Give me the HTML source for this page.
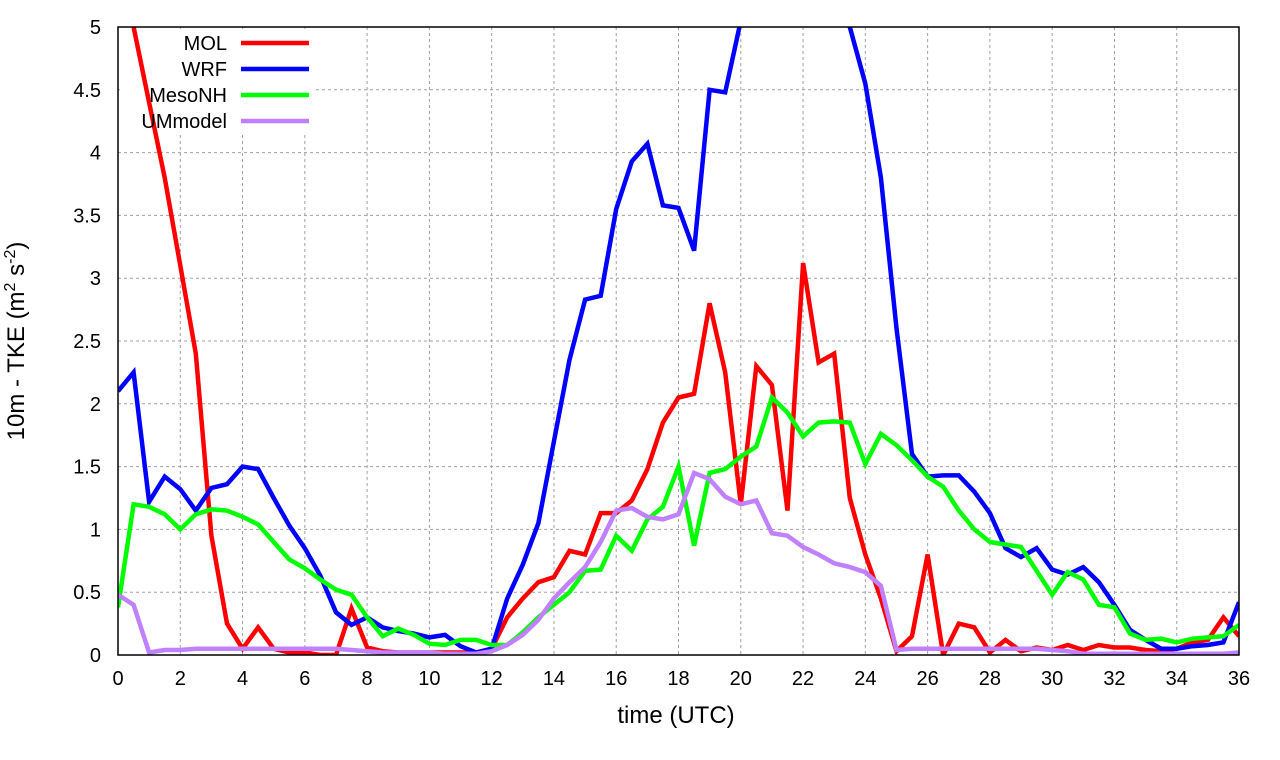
<!DOCTYPE html>
<html><head><meta charset="utf-8"><style>
body{margin:0;background:#fff;}
svg{display:block;font-family:"Liberation Sans",sans-serif;}
</style></head><body>
<svg id="chart" width="1280" height="760">
<defs><clipPath id="clip"><rect x="118" y="27" width="1121" height="628"/></clipPath></defs>
<g id="grid"></g>
<g id="series" clip-path="url(#clip)"></g>
<rect x="118" y="27" width="1121" height="628" fill="none" stroke="#000" stroke-width="1.5"/>
<g id="ticks"></g>
<text x="676" y="723" font-size="24" text-anchor="middle">time (UTC)</text>
<text transform="translate(24,341) rotate(-90)" font-size="24" text-anchor="middle">10m - TKE (m<tspan dy="-9" font-size="16">2</tspan><tspan dy="9"> s</tspan><tspan dy="-9" font-size="16">-2</tspan><tspan dy="9">)</tspan></text>
<g id="legend"></g>
</svg>
<script>
const xTicks=[0,2,4,6,8,10,12,14,16,18,20,22,24,26,28,30,32,34,36];
const yTicks=[0,0.5,1,1.5,2,2.5,3,3.5,4,4.5,5];
const yTickLabels=["0","0.5","1","1.5","2","2.5","3","3.5","4","4.5","5"];
const seriesNames=["MOL","WRF","MesoNH","UMmodel"];
const mol=[5.6,5.0,4.4,3.8,3.1,2.4,0.95,0.25,0.05,0.22,0.05,0.02,0.02,0,0,0.37,0.06,0.03,0.02,0.02,0.02,0.02,0.02,0.02,0.05,0.3,0.45,0.58,0.62,0.83,0.8,1.13,1.13,1.23,1.48,1.85,2.05,2.08,2.8,2.25,1.2,2.3,2.15,1.15,3.12,2.33,2.4,1.25,0.8,0.45,0.03,0.15,0.8,0,0.25,0.22,0.02,0.12,0.03,0.06,0.04,0.08,0.04,0.08,0.06,0.06,0.04,0.03,0.05,0.1,0.12,0.3,0.15];
const wrf=[2.1,2.25,1.22,1.42,1.32,1.15,1.33,1.36,1.5,1.48,1.25,1.03,0.85,0.63,0.34,0.24,0.3,0.22,0.19,0.17,0.14,0.16,0.07,0.02,0.05,0.45,0.72,1.05,1.7,2.35,2.83,2.86,3.55,3.93,4.07,3.58,3.56,3.22,4.5,4.48,5.05,5.6,6,6,6,5.8,5.4,5.0,4.55,3.8,2.6,1.6,1.42,1.43,1.43,1.3,1.13,0.85,0.78,0.85,0.68,0.64,0.7,0.58,0.4,0.2,0.12,0.05,0.05,0.07,0.08,0.1,0.42];
const mesonh=[0.38,1.2,1.18,1.12,1.0,1.12,1.16,1.15,1.1,1.04,0.9,0.76,0.69,0.6,0.52,0.48,0.3,0.15,0.21,0.16,0.09,0.08,0.12,0.12,0.08,0.08,0.18,0.3,0.4,0.5,0.67,0.68,0.95,0.83,1.08,1.18,1.5,0.87,1.45,1.48,1.58,1.66,2.05,1.93,1.74,1.85,1.86,1.85,1.52,1.76,1.67,1.55,1.42,1.34,1.15,1.0,0.9,0.88,0.86,0.67,0.48,0.66,0.6,0.4,0.38,0.17,0.12,0.13,0.1,0.13,0.14,0.15,0.24];
const ummodel=[0.48,0.4,0.02,0.04,0.04,0.05,0.05,0.05,0.05,0.05,0.05,0.05,0.05,0.05,0.05,0.04,0.03,0.02,0.02,0.02,0.02,0.01,0.01,0.01,0.03,0.08,0.16,0.28,0.45,0.58,0.7,0.9,1.15,1.17,1.1,1.08,1.12,1.45,1.4,1.26,1.2,1.23,0.97,0.95,0.86,0.8,0.73,0.7,0.66,0.55,0.04,0.05,0.05,0.05,0.05,0.05,0.05,0.05,0.05,0.05,0.04,0.03,0.01,0.01,0.01,0.01,0.01,0.01,0.01,0.01,0.01,0.01,0.02];
const colors=["#ff0000","#0000ff","#00ff00","#c080ff"];
const allSeries=[mol,wrf,mesonh,ummodel];
const X0=118,X1=1239,Y0=655,Y1=27;
const xs=v=>X0+(v/36)*(X1-X0);
const ys=v=>Y0-(v/5)*(Y0-Y1);
const NS="http://www.w3.org/2000/svg";
function mk(tag,parent,attrs){const e=document.createElementNS(NS,tag);for(const k in attrs)e.setAttribute(k,attrs[k]);parent.appendChild(e);return e;}
const grid=document.getElementById('grid'),ticks=document.getElementById('ticks');
xTicks.forEach(t=>{
  const l=mk('line',grid,{x1:xs(t),x2:xs(t),y1:Y1,y2:Y0,stroke:'#a0a0a0','stroke-dasharray':'3,3','stroke-width':1});
  
  
  const tx=mk('text',ticks,{x:xs(t),y:685,'font-size':20,'text-anchor':'middle'});
  tx.textContent=t;
  
  
});
yTicks.forEach((t,i)=>{
  const l=mk('line',grid,{x1:X0,x2:X1,y1:ys(t),y2:ys(t),stroke:'#a0a0a0','stroke-dasharray':'3,3','stroke-width':1});
  
  
  const tx=mk('text',ticks,{x:101,y:ys(t)+7,'font-size':20,'text-anchor':'end'});
  tx.textContent=yTickLabels[i];
  
  
});
// legend background covers grid
const lg=document.getElementById('legend');
const bg=mk('rect',grid,{x:120,y:29,width:195,height:105,fill:'#fff'});


const sg=document.getElementById('series');
allSeries.forEach((d,si)=>{
  const pts=d.map((v,i)=>xs(i*0.5).toFixed(1)+','+ys(v).toFixed(1)).join(' ');
  const p=mk('polyline',sg,{points:pts,fill:'none',stroke:colors[si],'stroke-width':4.5,'stroke-linejoin':'miter'});
  
  
  const ly=43+si*26;
  const t=mk('text',lg,{x:227,y:ly+7,'font-size':20,'text-anchor':'end'});
  t.textContent=seriesNames[si];
  
  
  const l=mk('line',lg,{x1:241,x2:309,y1:ly,y2:ly,stroke:colors[si],'stroke-width':4.5});
  
  
});
</script>
</body></html>
